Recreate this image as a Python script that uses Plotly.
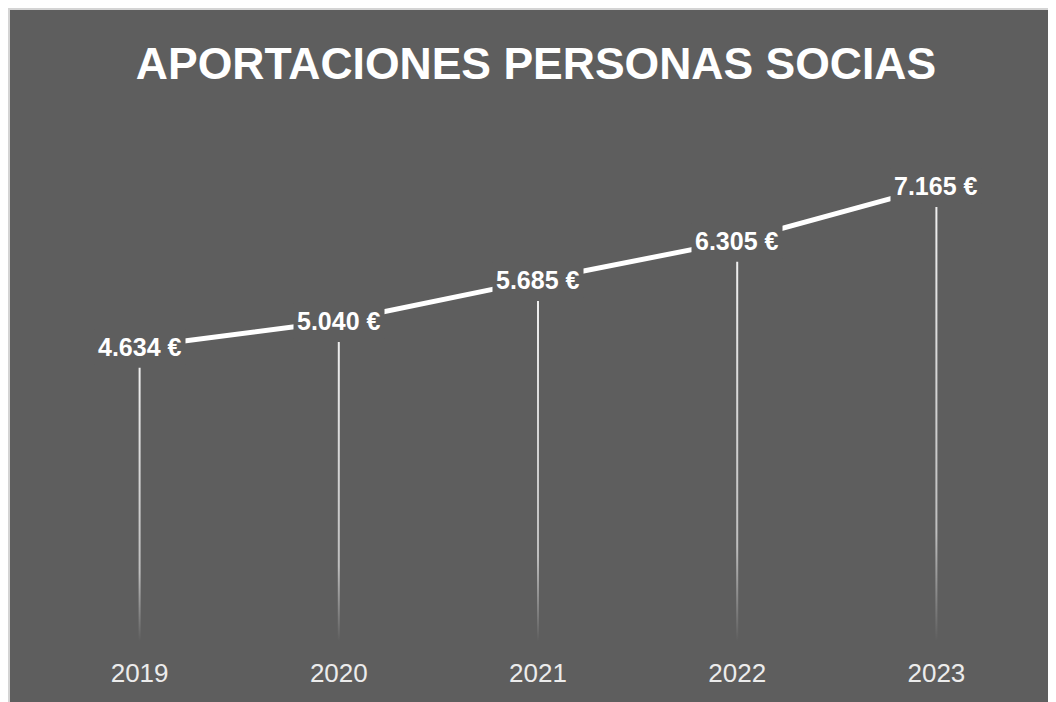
import plotly.graph_objects as go

years = ["2019", "2020", "2021", "2022", "2023"]
values = [4634, 5040, 5685, 6305, 7165]
labels = ["4.634 €", "5.040 €", "5.685 €", "6.305 €", "7.165 €"]
title_text = "APORTACIONES PERSONAS SOCIAS"

W, H = 1056, 702
ML, MR, MT, MB = 32, 28, 92, 69
BG = "#5e5e5e"
YMAX = 8520
px_per_unit = (H - MT - MB) / YMAX
gap_units = 21 / px_per_unit
half_w = 1.0 / ((W - ML - MR) / len(years))  # 1px in x units

xs = list(range(len(years)))

fig = go.Figure()

# drop lines with vertical fade
for i, v in zip(xs, values):
    top = v - gap_units
    fig.add_trace(go.Scatter(
        x=[i - half_w, i + half_w, i + half_w, i - half_w, i - half_w],
        y=[0, 0, top, top, 0],
        mode="lines", line=dict(width=0), fill="toself",
        fillgradient=dict(type="vertical",
                          colorscale=[[0, "rgba(255,255,255,0)"],
                                      [0.25, "rgba(255,255,255,0.6)"],
                                      [1, "rgba(255,255,255,0.9)"]]),
        hoverinfo="skip", showlegend=False))

fig.add_trace(go.Scatter(x=xs, y=values, mode="lines",
                         line=dict(color="white", width=5),
                         hoverinfo="skip", showlegend=False))

for i, v, t in zip(xs, values, labels):
    fig.add_annotation(x=i, y=v, text=t, showarrow=False,
                       font=dict(family="Liberation Sans", size=25, color="white", weight="bold"),
                       bgcolor=BG, borderpad=3, xanchor="center", yanchor="middle")

# thin light frame at top and left edges
def px2x(p):
    return (p - ML) / (W - ML - MR)

def py2y(p):
    return (H - MB - p) / (H - MT - MB)

fig.add_shape(type="rect", xref="paper", yref="paper", x0=px2x(-2), x1=px2x(W + 2),
              y0=py2y(2), y1=py2y(-2), fillcolor="#d4d4d4", line_width=0, layer="above")
fig.add_shape(type="rect", xref="paper", yref="paper", x0=px2x(-2), x1=px2x(2),
              y0=py2y(H + 2), y1=py2y(-2), fillcolor="#d4d4d4", line_width=0, layer="above")

fig.update_layout(
    width=W, height=H,
    margin=dict(l=ML, r=MR, t=MT, b=MB),
    paper_bgcolor=BG, plot_bgcolor=BG,
    title=dict(text=title_text, x=0.5, xanchor="center", y=1 - 55 / H, yanchor="middle",
               font=dict(family="Liberation Sans", size=44.5, color="white", weight="bold")),
    xaxis=dict(range=[-0.5, len(years) - 0.5], tickvals=xs, ticktext=years,
               showgrid=False, zeroline=False, showline=False, ticks="",
               tickfont=dict(family="Liberation Sans", size=26, color="#ececec"),
               ticklabelstandoff=14, fixedrange=True),
    yaxis=dict(range=[0, YMAX], visible=False, fixedrange=True),
    showlegend=False,
)

fig.write_html("out.html")
